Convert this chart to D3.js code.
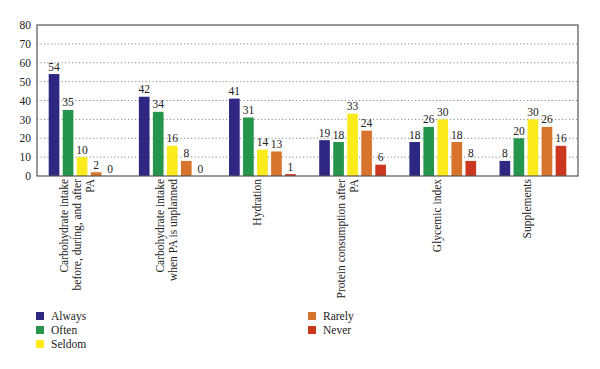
<!DOCTYPE html>
<html>
<head>
<meta charset="utf-8">
<script src="https://cdn.jsdelivr.net/npm/d3@7"></script>
<style>
body { margin: 0; background: #fff; }
text { font-family: "Liberation Serif", "DejaVu Serif", serif; fill: #222; }
</style>
</head>
<body>
<svg id="chart" width="600" height="369"></svg>
<script>
const categories = [
  ["Carbohydrate intake", "before, during, and after", "PA"],
  ["Carbohydrate intake", "when PA is unplanned"],
  ["Hydration"],
  ["Protein consumption after", "PA"],
  ["Glycemic index"],
  ["Supplements"]
];
const seriesNames = ["Always", "Often", "Seldom", "Rarely", "Never"];
const always = [54, 42, 41, 19, 18, 8];
const often  = [35, 34, 31, 18, 26, 20];
const seldom = [10, 16, 14, 33, 30, 30];
const rarely = [2, 8, 13, 24, 18, 26];
const never  = [0, 0, 1, 6, 8, 16];
const yTicks = [0, 10, 20, 30, 40, 50, 60, 70, 80];
const colors = ["#2e2883", "#25954b", "#fbea1c", "#d8732b", "#cb381f"];

const seriesValues = [always, often, seldom, rarely, never];

const svg = d3.select("#chart");
const m = { left: 37, right: 22, top: 25, bottom: 193 };
const W = 600, H = 369;
const iw = W - m.left - m.right, ih = H - m.top - m.bottom;
const g = svg.append("g").attr("transform", `translate(${m.left},${m.top})`);

const x0 = d3.scaleBand().domain(d3.range(categories.length)).range([0, iw]).paddingInner(0).paddingOuter(0);
const x1 = d3.scaleBand().domain(d3.range(seriesNames.length)).range([11.7, x0.bandwidth() - 11.7]).paddingInner(0.24).paddingOuter(0);
const y = d3.scaleLinear().domain([0, 80]).range([ih, 0]);

// grid
g.selectAll("line.grid").data(yTicks.filter(t => t > 0 && t < 80)).enter().append("line")
  .attr("x1", 0).attr("x2", iw).attr("y1", d => y(d)).attr("y2", d => y(d))
  .attr("stroke", "#888").attr("stroke-width", 1).attr("stroke-dasharray", "1.2,2.3");

// y axis labels
const yAxis = d3.axisLeft(y).tickValues(yTicks).tickSize(0).tickPadding(6);
const ya = g.append("g").call(yAxis);
ya.select(".domain").remove();
ya.selectAll("text").style("font-family", '"Liberation Serif", serif').style("font-size", "11.5px").attr("fill", "#222");

// bars
const groups = g.selectAll("g.grp").data(categories).enter().append("g")
  .attr("transform", (d, i) => `translate(${x0(i)},0)`);
groups.each(function(d, ci) {
  const gg = d3.select(this);
  seriesValues.forEach((vals, si) => {
    gg.append("rect")
      .attr("x", x1(si)).attr("width", x1.bandwidth())
      .attr("y", y(vals[ci])).attr("height", ih - y(vals[ci]))
      .attr("fill", colors[si]);
    gg.append("text")
      .attr("x", x1(si) + x1.bandwidth() / 2).attr("y", y(vals[ci]) - 3.5)
      .attr("text-anchor", "middle").style("font-size", "11.5px")
      .text(vals[ci]);
  });
});

// frame
g.append("rect").attr("x", 0).attr("y", 0).attr("width", iw).attr("height", ih)
  .attr("fill", "none").attr("stroke", "#555").attr("stroke-width", 1.2);

// category labels rotated
const lineH = 13;
categories.forEach((lines, ci) => {
  const cx = x0(ci) + x0.bandwidth() / 2;
  const n = lines.length;
  lines.forEach((ln, li) => {
    const bx = cx + (li - (n - 1) / 2) * lineH - 1.5;
    g.append("text")
      .attr("transform", `translate(${bx},${ih + 3}) rotate(-90)`)
      .attr("text-anchor", "end").style("font-size", "11.5px")
      .text(ln);
  });
});

// legend
const legendPos = [
  { x: 36, y: 316 }, { x: 36, y: 330 }, { x: 36, y: 344 },
  { x: 308, y: 316 }, { x: 308, y: 330 }
];
seriesNames.forEach((name, i) => {
  const p = legendPos[i];
  svg.append("rect").attr("x", p.x).attr("y", p.y - 4).attr("width", 8).attr("height", 8).attr("fill", colors[i]);
  svg.append("text").attr("x", p.x + 15).attr("y", p.y + 4).style("font-size", "11.5px").text(name);
});
</script>
</body>
</html>
